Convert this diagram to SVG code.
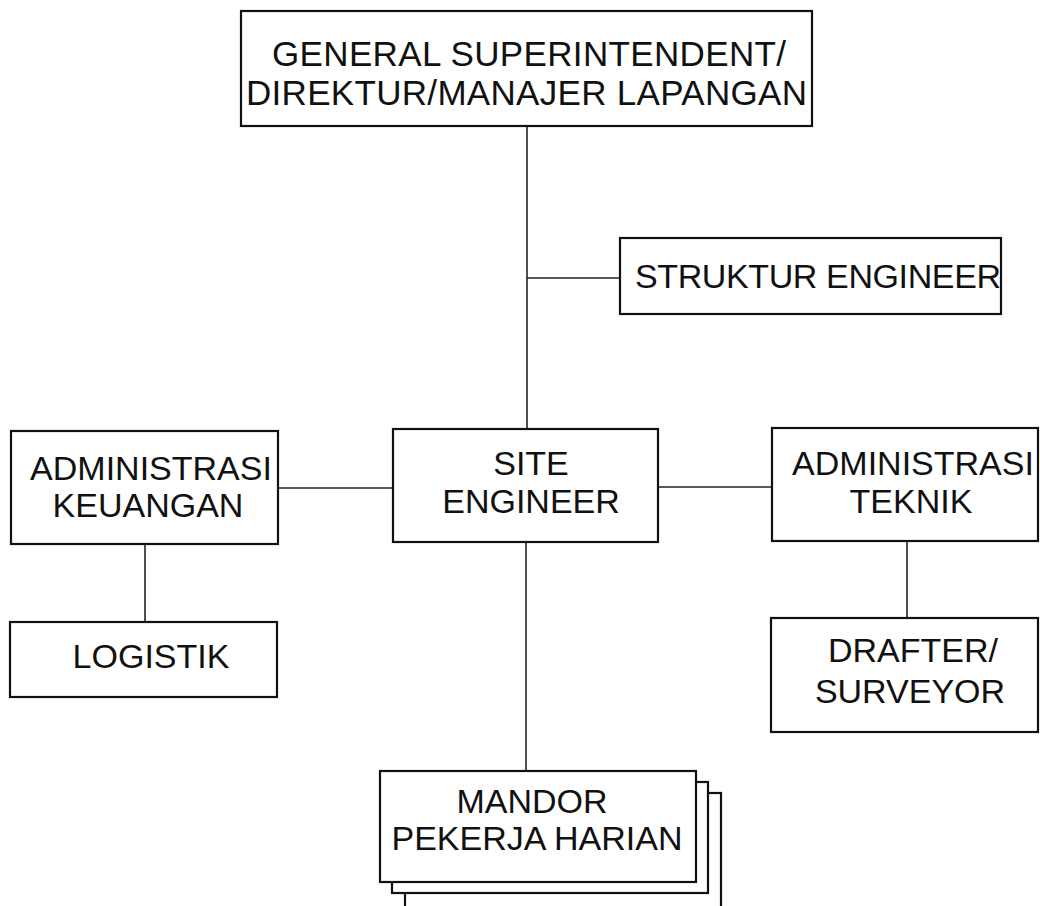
<svg xmlns="http://www.w3.org/2000/svg" width="1040" height="906" viewBox="0 0 1040 906">
<style>
.box{fill:#fff;stroke:#111;stroke-width:2.2}
.ln{stroke:#222;stroke-width:1.6;fill:none}
text{font-family:"Liberation Sans",Arial,sans-serif;font-size:34px;fill:#111}
.c{text-anchor:middle}
.big{font-size:35px}
</style>
<rect width="1040" height="906" fill="#fff"/>
<g id="connectors">
<line class="ln" x1="527" y1="126" x2="527" y2="429"/>
<line class="ln" x1="527" y1="278" x2="620" y2="278"/>
<line class="ln" x1="278" y1="488" x2="393" y2="488"/>
<line class="ln" x1="658" y1="487" x2="772" y2="487"/>
<line class="ln" x1="145" y1="544" x2="145" y2="622"/>
<line class="ln" x1="907" y1="541" x2="907" y2="618"/>
<line class="ln" x1="526" y1="542" x2="526" y2="771"/>
</g>
<g id="general-superintendent">
<rect class="box" x="241" y="11" width="571" height="115"/>
<text class="big" x="272" y="66" textLength="514">GENERAL SUPERINTENDENT/</text>
<text class="big" x="246" y="105" textLength="561">DIREKTUR/MANAJER LAPANGAN</text>
</g>
<g id="struktur-engineer">
<rect class="box" x="620" y="238" width="381" height="76"/>
<text x="635" y="288" textLength="366">STRUKTUR ENGINEER</text>
</g>
<g id="administrasi-keuangan">
<rect class="box" x="11" y="431" width="267" height="113"/>
<text class="c" x="151" y="480">ADMINISTRASI</text>
<text class="c" x="148" y="517">KEUANGAN</text>
</g>
<g id="site-engineer">
<rect class="box" x="393" y="429" width="265" height="113"/>
<text class="c" x="531" y="475">SITE</text>
<text class="c" x="531" y="513">ENGINEER</text>
</g>
<g id="administrasi-teknik">
<rect class="box" x="772" y="428" width="266" height="113"/>
<text class="c" x="913" y="475">ADMINISTRASI</text>
<text class="c" x="911" y="513">TEKNIK</text>
</g>
<g id="logistik">
<rect class="box" x="10" y="622" width="267" height="75"/>
<text class="c" x="151" y="668">LOGISTIK</text>
</g>
<g id="drafter-surveyor">
<rect class="box" x="771" y="618" width="267" height="114"/>
<text class="c" x="913" y="662">DRAFTER/</text>
<text class="c" x="910" y="703">SURVEYOR</text>
</g>
<g id="mandor-pekerja-harian">
<rect class="box" x="405" y="793" width="316" height="125"/>
<rect class="box" x="392" y="782" width="316" height="111"/>
<rect class="box" x="380" y="771" width="316" height="111"/>
<text class="c" x="532" y="813">MANDOR</text>
<text class="c" x="537" y="850">PEKERJA HARIAN</text>
</g>
</svg>
